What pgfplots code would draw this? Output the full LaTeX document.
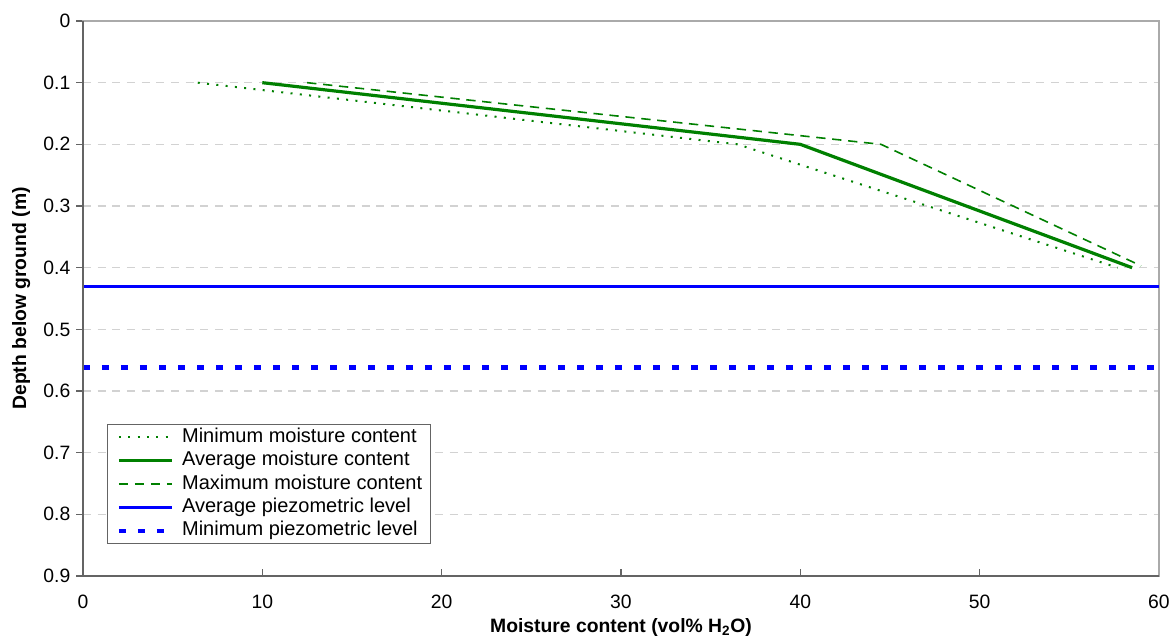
\documentclass[border=0pt]{standalone}
\usepackage{fontspec}
\setmainfont{Liberation Sans}
\usepackage{pgfplots}
\pgfplotsset{compat=1.18}
\definecolor{mgreen}{RGB}{0,128,0}
\definecolor{mblue}{RGB}{0,0,255}
\definecolor{gridgray}{RGB}{210,210,210}
\definecolor{axdark}{RGB}{100,100,100}
\definecolor{axlight}{RGB}{170,170,170}
\begin{document}
\begin{tikzpicture}[x=1pt,y=1pt]
\useasboundingbox (-62.25,-48) rectangle (816,432);
\begin{axis}[
  at={(0,0)}, anchor=south west,
  scale only axis,
  width=807pt, height=416.25pt,
  xmin=0, xmax=60, ymin=0, ymax=0.9,
  y dir=reverse,
  xtick={0,10,...,60}, ytick={0,0.1,...,0.9},
  yticklabels={0,0.1,0.2,0.3,0.4,0.5,0.6,0.7,0.8,0.9},
  xtick pos=bottom, ytick pos=left,
  xtick align=inside, ytick align=outside,
  major tick length=5pt,
  tick style={axdark, line width=0.8pt},
  /pgf/number format/assume math mode=true,
  tick label style={font=\fontsize{14.5}{16}\selectfont},
  xticklabel style={yshift=-11pt},
  yticklabel style={xshift=-1pt},
  ymajorgrids,
  major grid style={gridgray, line width=0.8pt, dash pattern=on 6pt off 5pt},
  axis line style={axlight, line width=0.8pt},
  xlabel={\bfseries Moisture content (vol\% H\textsubscript{2}O)},
  ylabel={\bfseries Depth below ground (m)},
  label style={font=\fontsize{14.5}{16}\selectfont},
  xlabel style={yshift=0pt},
  ylabel style={yshift=3pt},
  legend cell align=left,
  legend style={at={(rel axis cs:0.0223,0.274)}, anchor=north west,
    draw=axdark, line width=0.8pt, font=\fontsize{15}{16}\selectfont,
    inner xsep=3pt, inner ysep=1pt, row sep=0pt,
    nodes={text height=11pt, text depth=3.5pt, inner ysep=1.5pt, inner xsep=3pt}},
  legend image code/.code={\path (-4pt,0pt) (42.75pt,0pt); \draw[#1] (0pt,0pt) -- (40pt,0pt);},
  clip=false,
]
\addplot[mgreen, line width=1.5pt, dash pattern=on 1.5pt off 5.5pt] coordinates {(6.4,0.1) (36.5,0.2) (57.7,0.4)};
\addlegendentry{Minimum moisture content}
\addplot[mgreen, line width=2.4pt] coordinates {(10,0.1) (40,0.2) (58.5,0.4)};
\addlegendentry{Average moisture content}
\addplot[mgreen, line width=1.2pt, dash pattern=on 7pt off 5pt] coordinates {(12.5,0.1) (44.5,0.2) (59,0.397)};
\addlegendentry{Maximum moisture content}
\addplot[mblue, line width=2.4pt] coordinates {(0,0.431) (60,0.431)};
\addlegendentry{Average piezometric level}
\addplot[mblue, line width=3.2pt, dash pattern=on 5.25pt off 9pt] coordinates {(0,0.562) (60,0.562)};
\addlegendentry{Minimum piezometric level}
\draw[axdark, line width=0.8pt] (rel axis cs:0,1) -- (rel axis cs:0,0) -- (rel axis cs:1,0);
\end{axis}
\end{tikzpicture}
\end{document}
